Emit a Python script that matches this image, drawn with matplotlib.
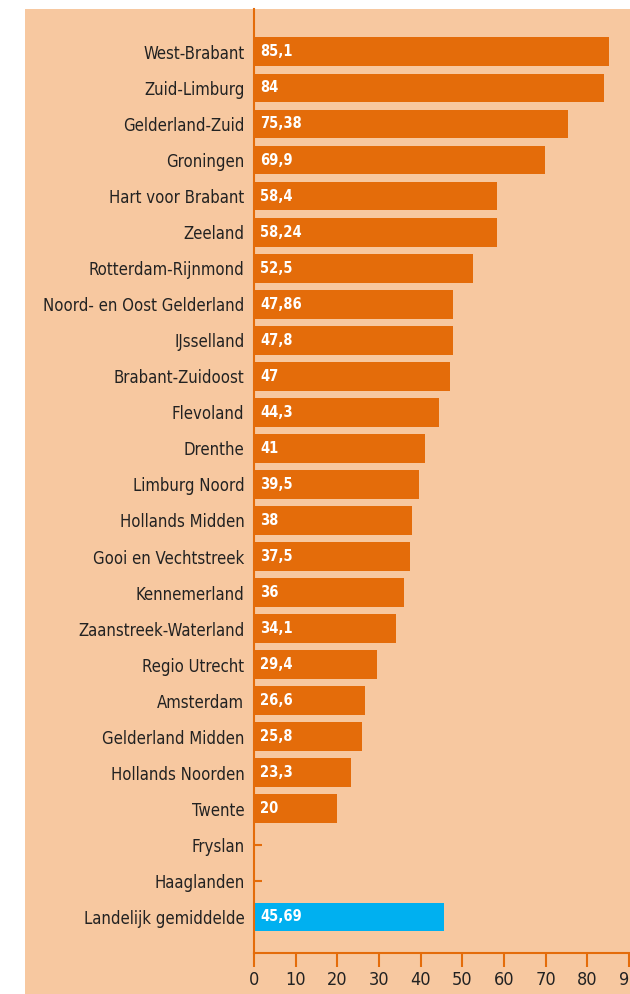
import matplotlib.pyplot as plt
from matplotlib.patches import Rectangle

regios = ["West-Brabant", "Zuid-Limburg", "Gelderland-Zuid", "Groningen",
          "Hart voor Brabant", "Zeeland", "Rotterdam-Rijnmond",
          "Noord- en Oost Gelderland", "IJsselland", "Brabant-Zuidoost",
          "Flevoland", "Drenthe", "Limburg Noord", "Hollands Midden",
          "Gooi en Vechtstreek", "Kennemerland", "Zaanstreek-Waterland",
          "Regio Utrecht", "Amsterdam", "Gelderland Midden",
          "Hollands Noorden", "Twente", "Fryslan", "Haaglanden",
          "Landelijk gemiddelde"]
waarden = [85.1, 84, 75.38, 69.9, 58.4, 58.24, 52.5, 47.86, 47.8, 47,
           44.3, 41, 39.5, 38, 37.5, 36, 34.1, 29.4, 26.6, 25.8, 23.3, 20,
           None, None, 45.69]
x_ticks = [0, 10, 20, 30, 40, 50, 60, 70, 80, 90]

peach = "#F7C8A0"
oranje = "#E46C0A"
blauw = "#00B0F0"

plt.rcParams["font.family"] = ["DejaVu Sans"]
plt.rcParams["font.stretch"] = "condensed"

fig = plt.figure(figsize=(6.3, 9.94), dpi=100)
fig.patch.set_facecolor("white")
# achtergrondvlak
fig.patches.append(Rectangle((25 / 630, 0), 1, 985 / 994, transform=fig.transFigure,
                             facecolor=peach, edgecolor="none", zorder=-10))

ax = fig.add_axes([254 / 630, 41 / 994, 375 / 630, 944 / 994])
ax.set_facecolor(peach)

for i, (naam, v) in enumerate(zip(regios, waarden)):
    if v is None:
        continue
    kleur = blauw if naam == "Landelijk gemiddelde" else oranje
    ax.barh(i, v, height=0.8, color=kleur, zorder=2)
    tekst = ("%g" % v).replace(".", ",")
    ax.text(1.5, i, tekst, color="white", fontsize=10.5, fontweight="bold",
            va="center", ha="left", zorder=3)

ax.set_yticks(range(len(regios)))
ax.set_yticklabels(regios, fontsize=12, color="#222222")
ax.set_ylim(len(regios), -1.19)
ax.set_xlim(0, 90)
ax.set_xticks(x_ticks)
ax.set_xticklabels([str(t) for t in x_ticks], fontsize=13, color="#222222")

for s in ["top", "right"]:
    ax.spines[s].set_visible(False)
for s in ["left", "bottom"]:
    ax.spines[s].set_color(oranje)
    ax.spines[s].set_linewidth(1.5)

ax.tick_params(axis="y", direction="in", length=6, width=1.5, color=oranje, pad=7)
ax.tick_params(axis="x", direction="out", length=10, width=1.5, color=oranje, pad=3)

fig.savefig("out.png", dpi=100)
